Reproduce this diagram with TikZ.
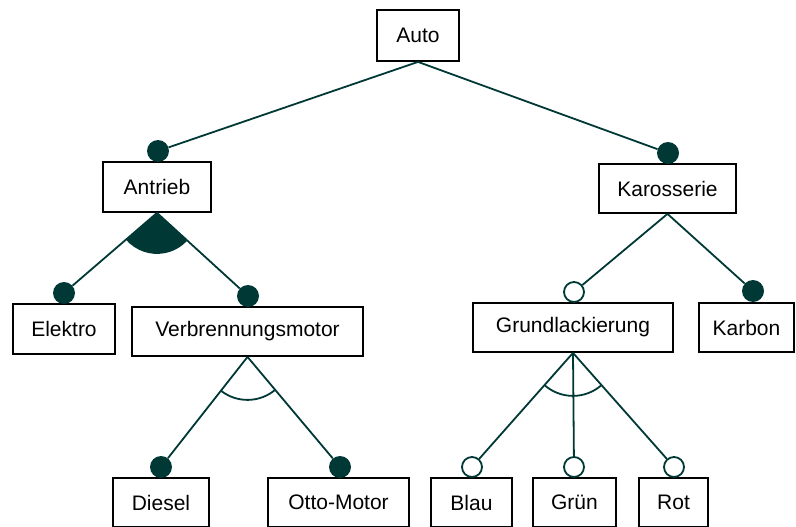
\documentclass[tikz,border=0pt]{standalone}
\usepackage{fontspec}
\setmainfont{Liberation Sans}
\usetikzlibrary{calc}
\definecolor{featline}{RGB}{0,56,54}
\tikzset{
  feature/.style={draw=black, line width=1.8pt, rectangle, inner sep=0pt,
    font=\fontsize{21}{25}\selectfont, text=black},
  mandatory/.style={circle, fill=featline, inner sep=0pt, minimum size=22pt},
  optional/.style={circle, draw=featline, fill=white, line width=1.8pt, inner sep=0pt, minimum size=20pt},
  link/.style={draw=featline, line width=1.8pt},
}
\newcommand{\grouparc}[5]{% #1 style, #2 parent, #3 first child marker, #4 last child marker, #5 radius
  \path[#1] let \p1=($(#3.center)-(#2.south)$), \p2=($(#4.center)-(#2.south)$),
    \n1={atan2(\y1,\x1)}, \n2={atan2(\y2,\x2)} in
    (#2.south) ++(\n1:#5) arc[start angle=\n1, end angle=\n2, radius=#5];
}
\newcommand{\groupsector}[5]{%
  \path[#1] let \p1=($(#3.center)-(#2.south)$), \p2=($(#4.center)-(#2.south)$),
    \n1={atan2(\y1,\x1)}, \n2={atan2(\y2,\x2)} in
    (#2.south) -- ++(\n1:#5) arc[start angle=\n1, end angle=\n2, radius=#5] -- cycle;
}
\begin{document}
\begin{tikzpicture}[x=1pt, y=-1pt]
\useasboundingbox (0,0) rectangle (796,527);

% features
\node[feature, minimum width=82pt,  minimum height=51pt] (Auto) at (418,35.5) {Auto};
\node[feature, minimum width=108pt, minimum height=50pt] (Antrieb) at (157,187) {Antrieb};
\node[feature, minimum width=137pt, minimum height=49pt] (Karosserie) at (667.5,188.5) {Karosserie};
\node[feature, minimum width=102pt, minimum height=50pt] (Elektro) at (64,329) {Elektro};
\node[feature, minimum width=231pt, minimum height=49pt] (Verbrennung) at (247.5,331.5) {Verbrennungsmotor};
\node[feature, minimum width=200pt, minimum height=49pt] (Grund) at (573,327.5) {Grundlackierung};
\node[feature, minimum width=95pt,  minimum height=49pt] (Karbon) at (746.5,327.5) {Karbon};
\node[feature, minimum width=96pt,  minimum height=49pt] (Diesel) at (161,502.5) {Diesel};
\node[feature, minimum width=141pt, minimum height=49pt] (Otto) at (338.5,502.5) {Otto-Motor};
\node[feature, minimum width=81pt,  minimum height=49pt] (Blau) at (471.5,502.5) {Blau};
\node[feature, minimum width=83pt,  minimum height=49pt] (Gruen) at (574.5,502.5) {Grün};
\node[feature, minimum width=69pt,  minimum height=49pt] (Rot) at (673.5,502.5) {Rot};

% mandatory / optional markers on top of each child
\node[mandatory] (mAntrieb) at (158,151) {};
\node[mandatory] (mKarosserie) at (668,153) {};
\node[mandatory] (mElektro) at (64,293) {};
\node[mandatory] (mVerbrennung) at (248,296) {};
\node[mandatory] (mDiesel) at (161,467) {};
\node[mandatory] (mOtto) at (340,467) {};
\node[optional] (oGrund) at (574,292) {};
\node[mandatory] (mKarbon) at (753,291) {};
\node[optional] (oBlau) at (472,467) {};
\node[optional] (oGruen) at (574,467) {};
\node[optional] (oRot) at (674,467) {};

% connectors
\draw[link] (Auto.south) -- (mAntrieb);
\draw[link] (Auto.south) -- (mKarosserie);
\draw[link] (Antrieb.south) -- (mElektro);
\draw[link] (Antrieb.south) -- (mVerbrennung);
\draw[link] (Verbrennung.south) -- (mDiesel);
\draw[link] (Verbrennung.south) -- (mOtto);
\draw[link] (Karosserie.south) -- (oGrund);
\draw[link] (Karosserie.south) -- (mKarbon);
\draw[link] (Grund.south) -- (oBlau);
\draw[link] (Grund.south) -- (oGruen);
\draw[link] (Grund.south) -- (oRot);

% group markers
\groupsector{fill=featline}{Antrieb}{mElektro}{mVerbrennung}{41pt}
\grouparc{link}{Verbrennung}{mDiesel}{mOtto}{43pt}
\grouparc{link}{Grund}{oBlau}{oRot}{43pt}
\end{tikzpicture}
\end{document}
